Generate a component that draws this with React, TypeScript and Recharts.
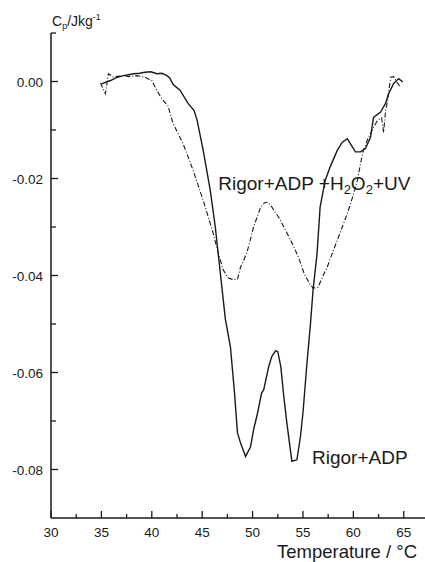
import { LineChart, Line, XAxis, YAxis, ReferenceDot } from "recharts";

// ─── Rigor+ADP (solid) ────────────────────────────────────────────────────────
const rigorTemp = [
  35.0, 35.9, 36.5, 37.2, 37.7, 38.2, 38.8, 39.3, 39.9, 40.5, 41.0, 41.5, 41.8,
  42.1, 42.8, 43.6, 44.2, 44.5, 45.1, 45.8, 46.3, 46.8, 47.3, 47.8, 48.2, 48.5,
  48.8, 49.3, 49.8, 50.1, 50.5, 50.9, 51.1, 51.6, 51.9, 52.3, 52.5, 52.8, 53.1,
  53.4, 53.9, 54.4, 54.75, 55.0, 55.4, 55.75, 56.0, 56.4, 56.7, 57.2, 57.7,
  58.4, 58.9, 59.4, 59.7, 60.2, 60.7, 61.2, 61.7, 62.0, 62.7, 63.2, 63.5, 64.0,
  64.5, 64.9,
];
const rigorCp = [
  -0.0005, 0.0002, 0.0008, 0.0012, 0.0014, 0.0016, 0.0017, 0.0019, 0.0020,
  0.0016, 0.0017, 0.0012, 0.0007, -0.0006, -0.0018, -0.0045, -0.006, -0.008,
  -0.0142, -0.0224, -0.03, -0.0395, -0.049, -0.0547, -0.064, -0.0724, -0.0745,
  -0.0773, -0.0753, -0.0718, -0.0683, -0.0642, -0.0636, -0.0588, -0.0567,
  -0.0555, -0.0557, -0.0588, -0.065, -0.0704, -0.0783, -0.078, -0.0732,
  -0.0683, -0.058, -0.0498, -0.043, -0.0354, -0.0259, -0.0204, -0.0176,
  -0.0142, -0.0125, -0.0118, -0.0128, -0.0145, -0.0145, -0.0138, -0.0115,
  -0.0074, -0.0063, -0.0045, -0.0025, -0.0004, 0.0006, -0.0001,
];

// ─── Rigor+ADP+H2O2+UV (dash-dot) ─────────────────────────────────────────────
const uvTemp = [
  34.9, 35.4, 35.7, 36.2, 36.7, 37.2, 37.8, 38.5, 39.3, 40.0, 40.5, 41.0, 41.6,
  42.1, 43.1, 44.1, 45.1, 46.0, 46.6, 47.1, 47.6, 48.0, 48.5, 48.8, 49.1, 49.5,
  50.1, 50.8, 51.2, 51.5, 51.8, 52.1, 52.6, 53.1, 53.6, 54.1, 54.6, 55.1, 55.6,
  56.0, 56.5, 57.0, 57.4, 57.9, 58.4, 58.9, 59.4, 59.9, 60.4, 60.7, 61.0, 61.4,
  61.7, 62.0, 62.4, 62.8, 63.0, 63.2, 63.4, 63.7, 64.0, 64.4, 64.7,
];
const uvCp = [
  -0.0003, -0.0025, 0.0016, 0.0009, 0.0011, 0.0012, 0.0010, 0.0012, 0.0009,
  0.0002, -0.0018, -0.0036, -0.005, -0.0086, -0.0128, -0.0183, -0.0245,
  -0.0306, -0.0354, -0.0389, -0.0405, -0.0408, -0.0408, -0.0383, -0.037,
  -0.0348, -0.03, -0.0259, -0.025, -0.0249, -0.0255, -0.0265, -0.028, -0.03,
  -0.032, -0.0341, -0.0365, -0.0395, -0.0415, -0.0426, -0.0424, -0.04,
  -0.0383, -0.0355, -0.0327, -0.03, -0.0272, -0.024, -0.0204, -0.017,
  -0.0142, -0.012, -0.0107, -0.0095, -0.008, -0.0075, -0.0105, -0.006,
  -0.0039, 0.0009, 0.001, -0.0004, -0.0012,
];

// ─── Axes ─────────────────────────────────────────────────────────────────────
const xTicks = [30, 32.5, 35, 37.5, 40, 42.5, 45, 47.5, 50, 52.5, 55, 57.5, 60, 62.5, 65, 67.5];
const yTicks = [-0.08, -0.07, -0.06, -0.05, -0.04, -0.03, -0.02, -0.01, 0, 0.01];

const rigorData = rigorTemp.map((t, i) => ({ t, cp: rigorCp[i] }));
const uvData = uvTemp.map((t, i) => ({ t, cp: uvCp[i] }));

const INK = "#1a1a1a";
const FONT = "'Liberation Sans', Arial, sans-serif";

function XTick({ x, y, payload }: any) {
  const major = payload.value % 5 === 0;
  return (
    <g>
      <line x1={x} x2={x} y1={y} y2={y - (major ? 7 : 4)} stroke={INK} strokeWidth={1.3} />
      {major && (
        <text x={x} y={y + 19} textAnchor="middle" fontSize={13.5} fontFamily={FONT} fill={INK}>
          {payload.value}
        </text>
      )}
    </g>
  );
}

function YTick({ x, y, payload }: any) {
  const major = Math.round(payload.value * 100) % 2 === 0;
  const showLabel = major && payload.value <= 0;
  return (
    <g>
      <line x1={x} x2={x + (major ? 7 : 5)} y1={y} y2={y} stroke={INK} strokeWidth={1.3} />
      {showLabel && (
        <text x={x - 8} y={y + 5} textAnchor="end" fontSize={13.5} fontFamily={FONT} fill={INK}>
          {payload.value.toFixed(2)}
        </text>
      )}
    </g>
  );
}

function AnnoLabel({ viewBox, parts }: any) {
  const { x, y } = viewBox;
  return (
    <text x={x} y={y} fontSize={19} fontFamily={FONT} fill={INK}>
      {parts.map((p: any, i: number) =>
        p.sub ? (
          <tspan key={i} fontSize={13} dy={4}>
            {p.s}
          </tspan>
        ) : (
          <tspan key={i} dy={i > 0 && parts[i - 1].sub ? -4 : 0}>
            {p.s}
          </tspan>
        )
      )}
    </text>
  );
}

export default function App() {
  return (
    <div
      style={{
        position: "absolute",
        left: 0,
        top: 0,
        width: 425,
        height: 562,
        overflow: "hidden",
        background: "#fff",
      }}
    >
      <LineChart width={434} height={562} margin={{ top: 33, right: 0, left: 0, bottom: 0 }}>
        <XAxis
          type="number"
          dataKey="t"
          domain={[30, 68]}
          ticks={xTicks}
          interval={0}
          height={44}
          tickSize={0}
          tickMargin={0}
          tick={<XTick />}
          axisLine={{ stroke: INK, strokeWidth: 1.5 }}
          tickLine={false}
          allowDataOverflow
        />
        <YAxis
          type="number"
          domain={[-0.09, 0.01]}
          ticks={yTicks}
          interval={0}
          width={51}
          tickSize={0}
          tickMargin={0}
          tick={<YTick />}
          axisLine={{ stroke: INK, strokeWidth: 1.5 }}
          tickLine={false}
          allowDataOverflow
        />
        <Line
          data={uvData}
          dataKey="cp"
          type="linear"
          stroke={INK}
          strokeWidth={1.1}
          strokeDasharray="5 2 1 2"
          dot={false}
          isAnimationActive={false}
        />
        <Line
          data={rigorData}
          dataKey="cp"
          type="linear"
          stroke={INK}
          strokeWidth={1.4}
          dot={false}
          isAnimationActive={false}
        />
        <ReferenceDot
          x={55.9}
          y={-0.0788}
          r={0}
          label={<AnnoLabel parts={[{ s: "Rigor+ADP" }]} />}
        />
        <ReferenceDot
          x={46.6}
          y={-0.0224}
          r={0}
          label={
            <AnnoLabel
              parts={[
                { s: "Rigor+ADP +H" },
                { s: "2", sub: true },
                { s: "O" },
                { s: "2", sub: true },
                { s: "+UV" },
              ]}
            />
          }
        />
      </LineChart>
      <svg
        width={425}
        height={562}
        style={{ position: "absolute", left: 0, top: 0, pointerEvents: "none" }}
      >
        <text x={52} y={26} fontSize={14} fontFamily={FONT} fill={INK}>
          C
          <tspan fontSize={9} dy={3}>p</tspan>
          <tspan dy={-3}>/Jkg</tspan>
          <tspan fontSize={9} dy={-6}>-1</tspan>
        </text>
        <text x={277} y={558} fontSize={18.5} fontFamily={FONT} fill={INK}>
          Temperature / °C
        </text>
      </svg>
    </div>
  );
}
